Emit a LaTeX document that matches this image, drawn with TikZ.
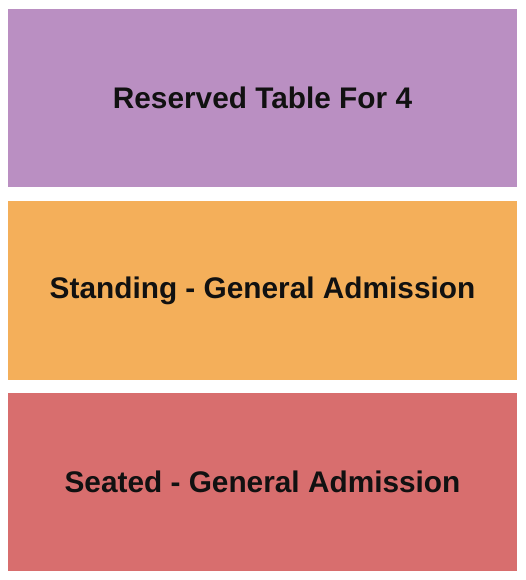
\documentclass[tikz,border=0pt]{standalone}
\usepackage{fontspec}
\setmainfont{Liberation Sans}
\definecolor{cpurple}{HTML}{BA8FC2}
\definecolor{corange}{HTML}{F4AF5A}
\definecolor{cred}{HTML}{D86E6E}
\definecolor{ctext}{HTML}{111111}
\begin{document}
\begin{tikzpicture}[x=1pt,y=-1pt,
  section/.style={inner sep=0pt,outer sep=0pt,minimum width=509pt,font=\fontsize{29.8}{34}\selectfont\bfseries,text=ctext,anchor=north west}]
\useasboundingbox (0,0) rectangle (525,580);
\node[section,fill=cpurple,minimum height=178pt] (reserved) at (8,9) {Reserved Table For 4};
\node[section,fill=corange,minimum height=179pt] (standing) at (8,201) {Standing - General Admission};
\node[section,fill=cred,minimum height=178pt] (seated) at (8,393) {Seated - General Admission};
\end{tikzpicture}
\end{document}
